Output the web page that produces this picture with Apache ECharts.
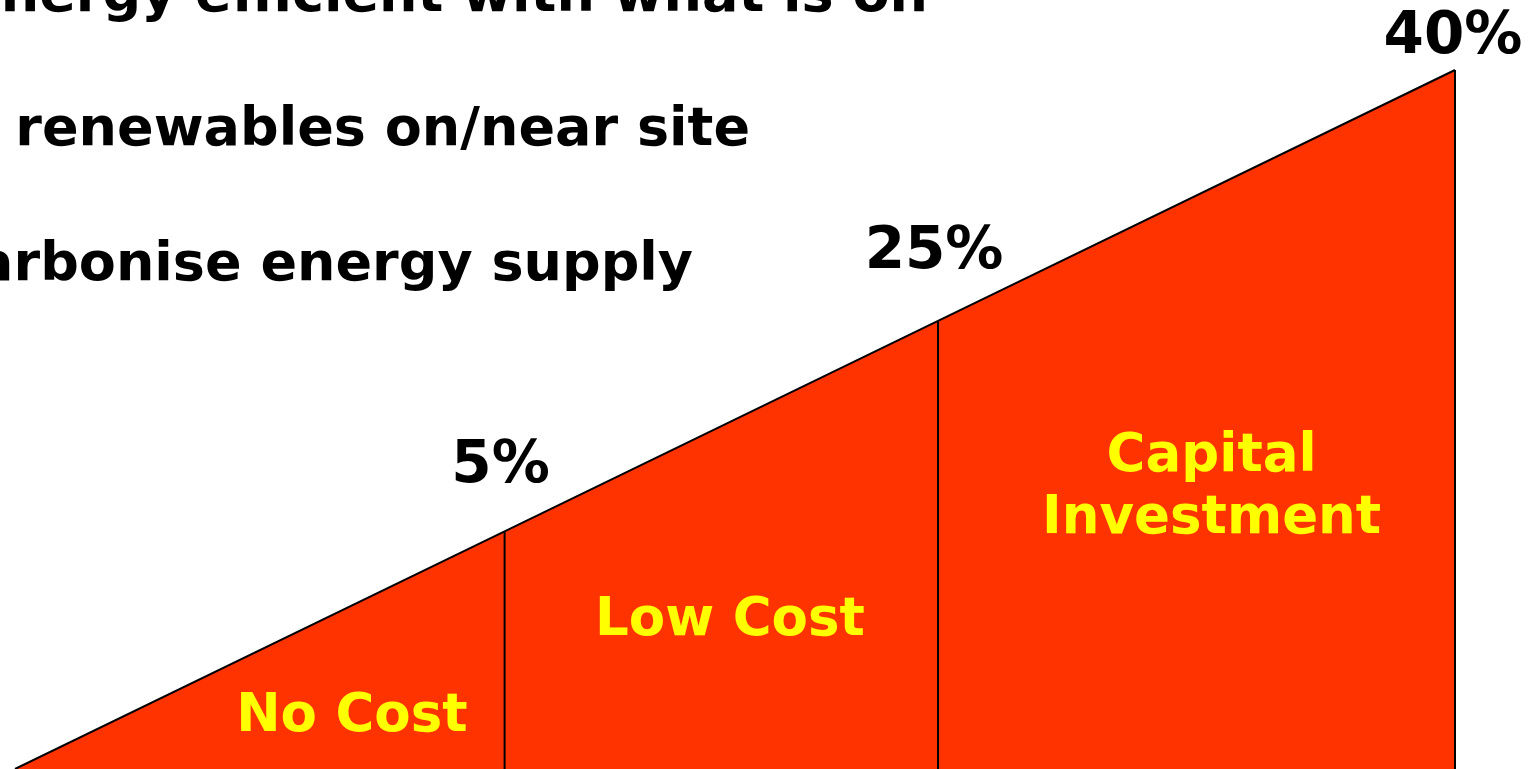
<!DOCTYPE html>
<html>
<head>
<meta charset="utf-8">
<script src="https://cdn.jsdelivr.net/npm/echarts@6/dist/echarts.min.js"></script>
<style>
  html, body { margin: 0; padding: 0; background: #fff; }
  #main { width: 1538px; height: 769px; }
</style>
</head>
<body>
<div id="main"></div>
<script>
// stage boundaries along the slope (0..100), heights follow the same straight line
var boundaryX = [0, 34, 64.1, 100];
var boundaryH = [0, 34, 64.1, 100];
var percentLabels = ['5%', '25%', '40%'];
var stageNames = ['No Cost', 'Low Cost', 'Capital\nInvestment'];
var headlines = [
  'Be energy efficient with what is on',
  'Use renewables on/near site',
  'Decarbonise energy supply'
];

var FONT = '"DejaVu Sans", Verdana, sans-serif';
var RED = '#FF3300';
var YELLOW = '#FFFF00';

var chart = echarts.init(document.getElementById('main'));

// slope outline + fill
var slope = [];
for (var i = 0; i < boundaryX.length; i++) {
  slope.push([boundaryX[i], boundaryH[i]]);
}

// vertical dividers at each boundary
var dividerSeries = [];
for (var j = 1; j < boundaryX.length; j++) {
  dividerSeries.push({
    type: 'line',
    data: [[boundaryX[j], 0], [boundaryX[j], boundaryH[j]]],
    symbol: 'none',
    lineStyle: { color: '#000', width: 2 },
    silent: true,
    z: 3
  });
}

// percent labels above divider tops
var pctOffsets = [[-4, -64], [-4, -68], [-2, -32]];
var pctData = [];
for (var k = 0; k < percentLabels.length; k++) {
  pctData.push({
    value: [boundaryX[k + 1], boundaryH[k + 1]],
    name: percentLabels[k],
    label: { offset: pctOffsets[k] }
  });
}

// stage names placed inside each band
var stageAnchors = [[23.4, 7.4], [49.65, 21.2], [83.1, 40.1]];
var stageData = [];
for (var m = 0; m < stageNames.length; m++) {
  stageData.push({ value: stageAnchors[m], name: stageNames[m] });
}

var headlineY = [2, 136, 271];
var headlineRight = [928, 750, 693];
var graphics = [];
for (var n = 0; n < headlines.length; n++) {
  graphics.push({
    type: 'text',
    right: 1538 - headlineRight[n],
    top: headlineY[n] - 32,
    style: {
      text: headlines[n],
      font: 'bold 54px ' + FONT,
      fill: '#000',
      textAlign: 'right'
    },
    z: 10
  });
}

var option = {
  backgroundColor: '#fff',
  animation: false,
  grid: { left: 15, right: 83, top: 70, bottom: 0 },
  xAxis: { type: 'value', min: 0, max: 100, show: false },
  yAxis: { type: 'value', min: 0, max: 100, show: false },
  graphic: graphics,
  series: [
    {
      type: 'line',
      data: slope,
      symbol: 'none',
      lineStyle: { color: '#000', width: 2 },
      areaStyle: { color: RED, opacity: 1 },
      z: 2
    }
  ].concat(dividerSeries).concat([
    {
      type: 'scatter',
      data: pctData,
      symbolSize: 0,
      itemStyle: { opacity: 1 },
      z: 5,
      label: {
        show: true,
        position: [0, 0],
        align: 'center',
        verticalAlign: 'middle',
        formatter: '{b}',
        color: '#000',
        opacity: 1,
        fontFamily: FONT,
        fontWeight: 'bold',
        fontSize: 58
      }
    },
    {
      type: 'scatter',
      data: stageData,
      symbolSize: 0,
      itemStyle: { opacity: 1 },
      z: 5,
      label: {
        show: true,
        position: [0, 0],
        align: 'center',
        verticalAlign: 'middle',
        formatter: '{b}',
        color: YELLOW,
        opacity: 1,
        fontFamily: FONT,
        fontWeight: 'bold',
        fontSize: 53,
        lineHeight: 62
      }
    }
  ])
};

chart.setOption(option);
</script>
</body>
</html>
